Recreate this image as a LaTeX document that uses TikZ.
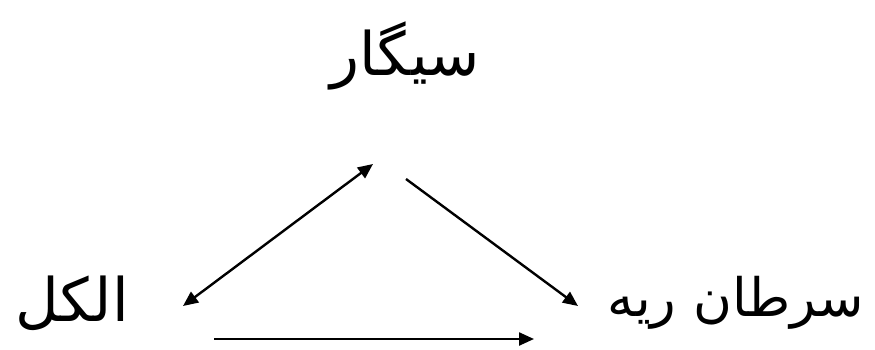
\documentclass[tikz,border=0pt]{standalone}
\usepackage{fontspec}
\usetikzlibrary{arrows.meta}
\newfontfamily\arabicfont[Script=Arabic]{DejaVu Sans}
\TeXXeTstate=1
\begin{document}
\begin{tikzpicture}[x=1pt,y=-1pt,
  lbl/.style={inner sep=0pt,font=\arabicfont\fontsize{60}{72}\selectfont},
  arr/.style={line width=2.4pt,-{Triangle[length=15pt,width=13pt]}},
  darr/.style={line width=2.4pt,{Triangle[length=15pt,width=13pt]}-{Triangle[length=15pt,width=13pt]}}]
\useasboundingbox (0,0) rectangle (875,349);
\node[lbl] (cig) at (405,56) {\beginR سیگار\endR};
\node[lbl] (alc) at (72,303) {\beginR الکل\endR};
\node[lbl,font=\arabicfont\fontsize{53}{64}\selectfont] (lung) at (736,303) {\beginR سرطان ریه\endR};
\coordinate (a1) at (183,306);
\coordinate (c1) at (373,164);
\coordinate (c2) at (406,179);
\coordinate (l1) at (578,306);
\coordinate (a2) at (214,339);
\coordinate (l2) at (534,339);
\draw[darr] (a1) -- (c1);
\draw[arr] (c2) -- (l1);
\draw[arr] (a2) -- (l2);
\end{tikzpicture}
\end{document}
